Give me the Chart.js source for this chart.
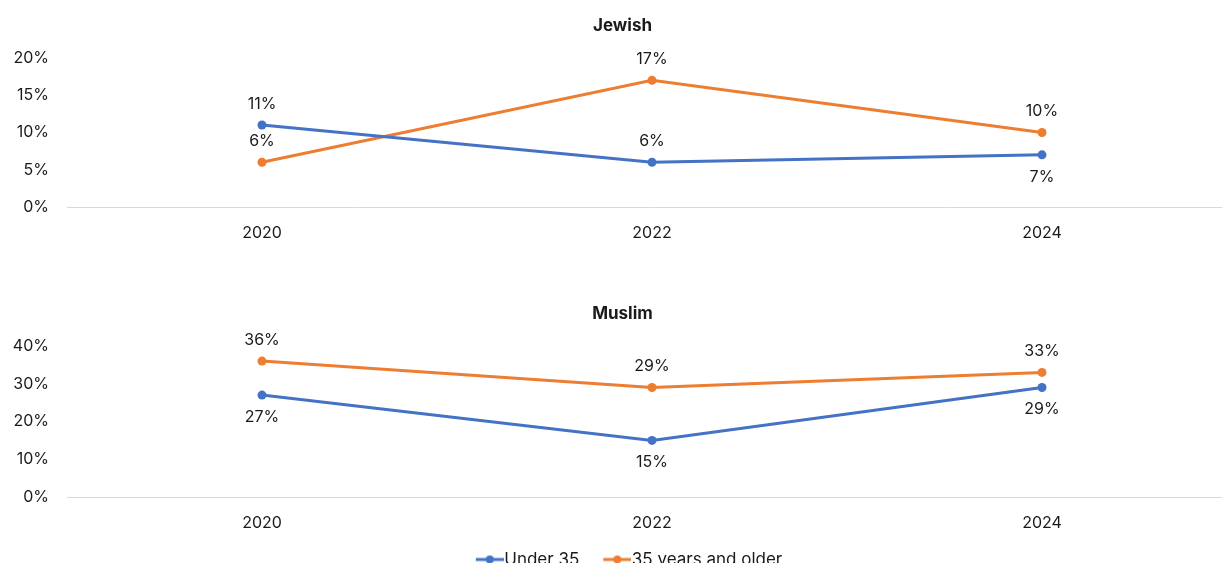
<!DOCTYPE html>
<html>
<head>
<meta charset="utf-8">
<script src="https://cdn.jsdelivr.net/npm/chart.js@4"></script>
<style>
  html, body { margin: 0; padding: 0; background: #fff; overflow: hidden; width: 1222px; height: 563px; }
  .panel { position: absolute; left: 0; }
  #top { top: 0; }
  #bottom { top: 290px; }
</style>
</head>
<body>
<div class="panel" id="top"><canvas id="jewish" width="1248" height="250"></canvas></div>
<div class="panel" id="bottom"><canvas id="muslim" width="1248" height="288"></canvas></div>
<script>
const YEARS = ["2020", "2022", "2024"];
const SERIES_NAMES = ["Under 35", "35 years and older"];

const JEWISH_UNDER_35 = [11, 6, 7];
const JEWISH_35_PLUS = [6, 17, 10];
const JEWISH_TICKS = [0, 5, 10, 15, 20];

const MUSLIM_UNDER_35 = [27, 15, 29];
const MUSLIM_35_PLUS = [36, 29, 33];
const MUSLIM_TICKS = [0, 10, 20, 30, 40];

// which side of the point each value label sits on
const JEWISH_LABEL_SIDE = [["above", "above", "below"], ["above", "above", "above"]];
const MUSLIM_LABEL_SIDE = [["below", "below", "below"], ["above", "above", "above"]];

const BLUE = "#4472C4";
const ORANGE = "#ED7D31";
const FONT = "Inter, 'Liberation Sans', Arial, sans-serif";
const TEXT = "#1a1a1a";

// Excel-style legend marker: short line with a dot, on the right of a
// transparent strip so items get spaced apart like the original
function legendMarker(color) {
    const c = document.createElement("canvas");
    c.width = 49;
    c.height = 10;
    const ctx = c.getContext("2d");
    ctx.strokeStyle = color;
    ctx.lineWidth = 3;
    ctx.beginPath();
    ctx.moveTo(21, 5);
    ctx.lineTo(49, 5);
    ctx.stroke();
    ctx.fillStyle = color;
    ctx.beginPath();
    ctx.arc(35, 5, 4, 0, Math.PI * 2);
    ctx.fill();
    return c;
}
const MARKERS = [legendMarker(BLUE), legendMarker(ORANGE)];

const valueLabels = {
    id: "valueLabels",
    afterDatasetsDraw(chart, args, opts) {
        const ctx = chart.ctx;
        ctx.save();
        ctx.font = `16px ${FONT}`;
        ctx.fillStyle = TEXT;
        ctx.textAlign = "center";
        ctx.textBaseline = "middle";
        chart.data.datasets.forEach((ds, i) => {
            const meta = chart.getDatasetMeta(i);
            meta.data.forEach((pt, j) => {
                const dy = opts.sides[i][j] === "above" ? -21 : 22;
                ctx.fillText(ds.data[j] + "%", pt.x, pt.y + dy);
            });
        });
        ctx.restore();
    },
};

function makeChart(canvasId, title, under, over, ticks, sides, showLegend, titlePad) {
    const max = ticks[ticks.length - 1];
    const step = ticks[1] - ticks[0];
    return new Chart(document.getElementById(canvasId), {
        type: "line",
        data: {
            labels: YEARS,
            datasets: [
                { label: SERIES_NAMES[0], data: under, borderColor: BLUE, backgroundColor: BLUE },
                { label: SERIES_NAMES[1], data: over, borderColor: ORANGE, backgroundColor: ORANGE },
            ],
        },
        options: {
            responsive: false,
            animation: false,
            layout: { padding: { left: 0, right: 3, top: 0, bottom: 0 } },
            elements: {
                line: { tension: 0, borderWidth: 3 },
                point: { radius: 4.5, hoverRadius: 4.5, pointStyle: "circle", borderWidth: 0 },
            },
            plugins: {
                title: {
                    display: true,
                    text: title,
                    color: TEXT,
                    font: { family: FONT, size: 17, weight: "bold" },
                    padding: titlePad,
                },
                legend: {
                    display: showLegend,
                    position: "bottom",
                    labels: {
                        color: TEXT,
                        font: { family: FONT, size: 17 },
                        usePointStyle: true,
                        pointStyleWidth: 33,
                        boxHeight: 10,
                        padding: 11,
                        generateLabels(chart) {
                            return chart.data.datasets.map((ds, i) => ({
                                text: ds.label,
                                pointStyle: MARKERS[i],
                                fontColor: TEXT,
                                strokeStyle: ds.borderColor,
                                fillStyle: ds.borderColor,
                                lineWidth: 0,
                                datasetIndex: i,
                            }));
                        },
                    },
                },
                tooltip: { enabled: false },
                valueLabels: { sides },
            },
            scales: {
                x: {
                    offset: true,
                    grid: { display: false, drawTicks: false },
                    border: { display: true, color: "#D9D9D9", width: 1 },
                    ticks: { color: TEXT, font: { family: FONT, size: 16 }, padding: 17 },
                    afterFit(scale) { scale.height = 43; },
                },
                y: {
                    min: 0,
                    max: max,
                    grid: { display: false, drawTicks: false },
                    border: { display: false },
                    ticks: {
                        stepSize: step,
                        color: TEXT,
                        font: { family: FONT, size: 16 },
                        padding: 18,
                        callback: (v) => v + "%",
                    },
                    afterFit(scale) { scale.width = 67; },
                },
                // empty right gutter so the legend centres like the original
                yRight: {
                    position: "right",
                    display: true,
                    grid: { display: false, drawTicks: false },
                    border: { display: false },
                    ticks: { display: false },
                    afterFit(scale) { scale.width = 8; },
                },
            },
        },
        plugins: [valueLabels],
    });
}

makeChart("jewish", "Jewish", JEWISH_UNDER_35, JEWISH_35_PLUS, JEWISH_TICKS, JEWISH_LABEL_SIDE, false, { top: 15.5, bottom: 22.1 });
makeChart("muslim", "Muslim", MUSLIM_UNDER_35, MUSLIM_35_PLUS, MUSLIM_TICKS, MUSLIM_LABEL_SIDE, true, { top: 14, bottom: 21.6 });
</script>
</body>
</html>
